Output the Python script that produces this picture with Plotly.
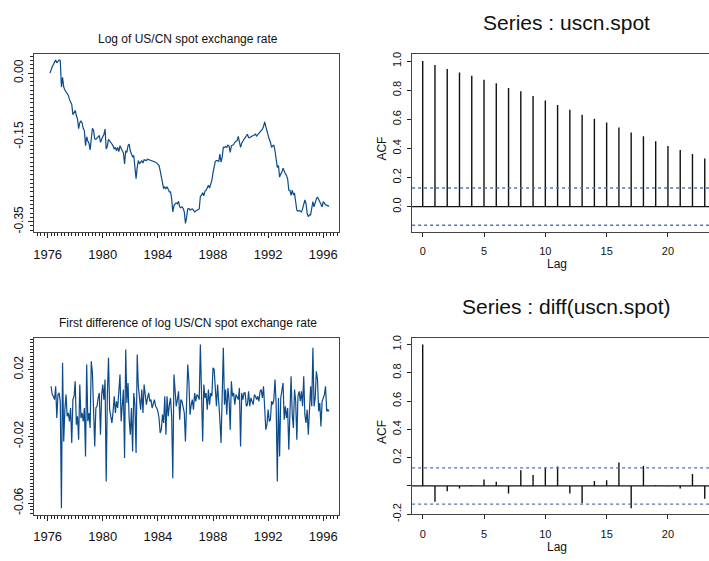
import numpy as np
import plotly.graph_objects as go

W, H = 709, 561

# ---------------- data ----------------
start_year, start_month = 1976, 3   # monthly, March 1976 onwards

uscn_spot = [
    0.000, 0.009, 0.015, 0.020, 0.027, 0.031, 0.024, 0.028, 0.031, 0.030,
    -0.033, -0.010, -0.033, -0.040, -0.045, -0.048, -0.052, -0.062, -0.070, -0.074,
    -0.098, -0.092, -0.088, -0.100, -0.108, -0.131, -0.117, -0.113, -0.117, -0.130,
    -0.136, -0.171, -0.150, -0.160, -0.165, -0.181, -0.160, -0.130, -0.135, -0.155,
    -0.156, -0.152, -0.150, -0.147, -0.163, -0.155, -0.150, -0.145, -0.132, -0.179,
    -0.172, -0.156, -0.159, -0.163, -0.167, -0.172, -0.179, -0.175, -0.183, -0.175,
    -0.185, -0.171, -0.180, -0.183, -0.188, -0.214, -0.183, -0.187, -0.171, -0.167,
    -0.183, -0.190, -0.198, -0.194, -0.218, -0.249, -0.222, -0.206, -0.214, -0.210,
    -0.206, -0.212, -0.204, -0.205, -0.206, -0.203, -0.204, -0.205, -0.206, -0.207,
    -0.207, -0.208, -0.210, -0.212, -0.214, -0.218, -0.230, -0.245, -0.257, -0.272,
    -0.268, -0.272, -0.268, -0.276, -0.280, -0.280, -0.296, -0.327, -0.312, -0.308,
    -0.306, -0.308, -0.302, -0.315, -0.317, -0.315, -0.319, -0.327, -0.354, -0.340,
    -0.320, -0.319, -0.323, -0.321, -0.320, -0.323, -0.327, -0.325, -0.323, -0.322,
    -0.320, -0.290, -0.288, -0.282, -0.289, -0.278, -0.276, -0.270, -0.264, -0.271,
    -0.263, -0.253, -0.235, -0.215, -0.208, -0.206, -0.206, -0.208, -0.191, -0.210,
    -0.198, -0.175, -0.175, -0.173, -0.175, -0.170, -0.172, -0.187, -0.171, -0.170,
    -0.168, -0.163, -0.161, -0.159, -0.149, -0.167, -0.175, -0.165, -0.159, -0.156,
    -0.152, -0.146, -0.144, -0.152, -0.152, -0.150, -0.149, -0.148, -0.146, -0.144,
    -0.148, -0.145, -0.142, -0.140, -0.136, -0.132, -0.126, -0.115, -0.126, -0.138,
    -0.144, -0.156, -0.163, -0.175, -0.171, -0.170, -0.183, -0.200, -0.222, -0.218,
    -0.245, -0.238, -0.233, -0.224, -0.233, -0.237, -0.241, -0.249, -0.276, -0.276,
    -0.288, -0.276, -0.286, -0.284, -0.303, -0.323, -0.325, -0.324, -0.325, -0.327,
    -0.320, -0.311, -0.299, -0.307, -0.331, -0.338, -0.334, -0.334, -0.311, -0.303,
    -0.315, -0.303, -0.296, -0.292, -0.298, -0.303, -0.311, -0.315, -0.303, -0.307,
    -0.310, -0.311, -0.313, -0.314,
]

uscn_diff = [
    0.010, 0.005, 0.004, 0.002, 0.010, -0.009, 0.005, 0.006, 0.001, -0.063,
    0.024, -0.023, -0.004, 0.005, -0.008, -0.006, -0.011, -0.003, -0.024, 0.002,
    0.004, 0.013, -0.013, -0.008, -0.022, 0.011, -0.009, -0.006, -0.011, -0.003,
    -0.032, 0.023, -0.011, -0.006, -0.015, 0.025, 0.018, -0.003, -0.026, -0.003,
    -0.002, 0.003, 0.006, -0.019, 0.004, 0.011, 0.002, 0.014, -0.047, 0.005,
    0.027, -0.004, -0.008, -0.012, -0.005, 0.004, -0.006, 0.001, -0.003, 0.005,
    0.017, -0.011, 0.002, 0.008, -0.033, 0.032, 0.000, 0.012, -0.010, -0.019,
    -0.003, -0.029, 0.006, -0.001, -0.030, 0.029, 0.010, 0.003, -0.004, 0.008,
    -0.006, 0.011, 0.004, -0.001, 0.003, 0.006, 0.001, 0.002, -0.003, -0.001,
    0.002, -0.002, -0.003, -0.005, -0.009, -0.018, -0.016, -0.007, -0.012, 0.004,
    -0.019, 0.004, -0.008, -0.001, 0.003, -0.008, -0.045, 0.017, 0.004, -0.002,
    0.002, 0.007, -0.010, 0.002, 0.001, -0.003, -0.006, -0.023, 0.010, 0.023,
    0.013, -0.007, -0.001, 0.002, -0.004, 0.006, 0.001, 0.005, 0.004, 0.002,
    0.035, -0.001, -0.023, 0.011, 0.003, 0.006, -0.004, 0.008, -0.001, 0.006,
    0.004, 0.021, 0.020, 0.009, -0.002, 0.011, -0.004, -0.010, -0.024, 0.005,
    0.033, -0.001, 0.008, -0.007, 0.009, 0.002, -0.016, 0.013, 0.004, 0.006,
    -0.001, 0.005, 0.003, 0.002, 0.009, -0.026, 0.006, 0.002, 0.006, 0.006,
    -0.002, -0.001, 0.007, -0.002, 0.003, 0.001, -0.001, 0.005, 0.004, 0.002,
    0.004, 0.001, 0.007, 0.008, 0.003, 0.010, -0.005, -0.016, -0.013, -0.004,
    -0.011, -0.010, 0.001, -0.001, 0.002, 0.014, -0.001, -0.047, 0.003, -0.032,
    0.003, 0.007, 0.012, -0.010, -0.002, -0.009, -0.003, -0.028, 0.004, 0.016,
    -0.007, -0.015, 0.008, 0.001, -0.022, 0.004, 0.007, 0.001, 0.007, -0.002,
    0.016, -0.007, -0.012, -0.004, -0.019, -0.003, 0.010, -0.002, 0.033, -0.002,
    0.003, 0.019, 0.014, -0.005, 0.000, -0.014, 0.001, 0.003, 0.005, 0.010,
    -0.005, -0.004, -0.005,
]

acf_lags = list(range(24))
acf_spot = [1.000, 0.973, 0.946, 0.921, 0.899, 0.872, 0.847, 0.816, 0.793, 0.760,
            0.730, 0.699, 0.665, 0.631, 0.604, 0.578, 0.544, 0.510, 0.483, 0.449,
            0.416, 0.389, 0.362, 0.330]
acf_diff = [1.000, -0.111, -0.037, -0.018, 0.005, 0.046, 0.030, -0.053, 0.111, 0.078,
            0.129, 0.138, -0.053, -0.122, 0.035, 0.041, 0.166, -0.157, 0.141, 0.005,
            -0.002, -0.018, 0.085, -0.090]

year_ticks = [1976, 1980, 1984, 1988, 1992, 1996]
spot_yticks = [0.00, -0.15, -0.35]
spot_ylabels = ["0.00", "-0.15", "-0.35"]
diff_yticks = [0.02, -0.02, -0.06]
diff_ylabels = ["0.02", "-0.02", "-0.06"]
acf1_yticks = [0.0, 0.2, 0.4, 0.6, 0.8, 1.0]
acf1_ylabels = ["0.0", "0.2", "0.4", "0.6", "0.8", "1.0"]
acf2_yticks = [-0.2, 0.0, 0.2, 0.4, 0.6, 0.8, 1.0]
acf2_ylabels = ["-0.2", "", "0.2", "0.4", "0.6", "0.8", "1.0"]
acf_xticks = [0, 5, 10, 15, 20]

# ---------------- helpers ----------------
FONT = "Liberation Sans, Arial, Helvetica, sans-serif"
LINE_BLUE = "#0b4a8b"
BOX = "#444444"


def px_x(p):
    return p / W


def px_y(p):
    return 1 - p / H


def time_index(n, offset):
    return start_year + (start_month - 1 + offset + np.arange(n)) / 12.0


def spikes(lags, vals):
    xs, ys = [], []
    for l, v in zip(lags, vals):
        xs += [l, l, None]
        ys += [0, v, None]
    return xs, ys


t_spot = time_index(len(uscn_spot), 0)
t_diff = time_index(len(uscn_diff), 1)

fig = go.Figure()

fig.add_trace(go.Scatter(x=t_spot, y=uscn_spot, mode="lines",
                         line=dict(color=LINE_BLUE, width=1.2),
                         xaxis="x", yaxis="y", showlegend=False))
fig.add_trace(go.Scatter(x=t_diff, y=uscn_diff, mode="lines",
                         line=dict(color=LINE_BLUE, width=1.2),
                         xaxis="x3", yaxis="y3", showlegend=False))

sx, sy = spikes(acf_lags, acf_spot)
fig.add_trace(go.Scatter(x=sx, y=sy, mode="lines", line=dict(color="#111111", width=1.4),
                         xaxis="x2", yaxis="y2", showlegend=False))
dx, dy = spikes(acf_lags, acf_diff)
fig.add_trace(go.Scatter(x=dx, y=dy, mode="lines", line=dict(color="#111111", width=1.4),
                         xaxis="x4", yaxis="y4", showlegend=False))

band1 = 2 / np.sqrt(len(uscn_spot))
band2 = 2 / np.sqrt(len(uscn_diff))
shapes = []
for xr, yr, b in (("x2 domain", "y2", band1), ("x4 domain", "y4", band2)):
    for s in (b, -b):
        shapes.append(dict(type="line", xref=xr, yref=yr, x0=0, x1=1, y0=s, y1=s,
                           line=dict(color="#4f74b0", width=1.3, dash="dot")))
    shapes.append(dict(type="line", xref=xr, yref=yr, x0=0, x1=1, y0=0, y1=0,
                       line=dict(color="#111111", width=1.3)))

tick_font = dict(family=FONT, size=13, color="#111111")
ylab_font = dict(family=FONT, size=12, color="#111111")
small_tick_font = dict(family=FONT, size=11, color="#111111")

time_x = dict(range=[1975.007, 1997.109], tickmode="array", tickvals=year_ticks,
              ticktext=[str(y) for y in year_ticks], ticks="outside", ticklen=5,
              tickcolor="#222222", showline=True, linecolor=BOX, mirror=True,
              showgrid=False, zeroline=False, tickfont=tick_font, ticklabelstandoff=5,
              minor=dict(tickmode="linear", tick0=1976, dtick=0.25, ticks="outside",
                         ticklen=3, tickcolor="#222222", showgrid=False))

acf_x = dict(range=[-0.863, 23.347], tickmode="array", tickvals=acf_xticks,
             ticktext=[str(v) for v in acf_xticks], ticks="outside", ticklen=4,
             tickcolor="#222222", showline=True, linecolor=BOX, mirror=True,
             showgrid=False, zeroline=False, tickfont=small_tick_font,
             ticklabelstandoff=5)

layout = dict(
    width=W, height=H, autosize=False,
    margin=dict(l=0, r=0, t=0, b=0),
    paper_bgcolor="white", plot_bgcolor="white",
    font=dict(family=FONT, color="#111111"),
    shapes=shapes,
    xaxis=dict(domain=[px_x(33), px_x(338)], anchor="y", **time_x),
    yaxis=dict(domain=[px_y(234), px_y(52)], anchor="x", range=[-0.3753, 0.045],
               tickmode="array", tickvals=spot_yticks, ticktext=spot_ylabels,
               tickangle=-90, ticks="outside", ticklen=5, tickcolor="#222222",
               showline=True, linecolor=BOX, mirror=True, showgrid=False, zeroline=False,
               tickfont=ylab_font,
               minor=dict(tickmode="linear", tick0=0, dtick=0.01, ticks="outside",
                          ticklen=3, tickcolor="#222222", showgrid=False)),
    xaxis3=dict(domain=[px_x(33), px_x(338)], anchor="y3", **time_x),
    yaxis3=dict(domain=[px_y(522), px_y(342)], anchor="x3", range=[-0.0669, 0.0387],
                tickmode="array", tickvals=diff_yticks, ticktext=diff_ylabels,
                tickangle=-90, ticks="outside", ticklen=5, tickcolor="#222222",
                showline=True, linecolor=BOX, mirror=True, showgrid=False, zeroline=False,
                tickfont=ylab_font,
                minor=dict(tickmode="linear", tick0=0, dtick=0.002, ticks="outside",
                           ticklen=3, tickcolor="#222222", showgrid=False)),
    xaxis2=dict(domain=[px_x(411.7), 1.0], anchor="y2", **acf_x),
    yaxis2=dict(domain=[px_y(233.3), px_y(52.3)], anchor="x2", range=[-0.1725, 1.047],
                tickmode="array", tickvals=acf1_yticks, ticktext=acf1_ylabels,
                tickangle=-90, ticks="outside", ticklen=4, tickcolor="#222222",
                showline=True, linecolor=BOX, mirror=False, showgrid=False, zeroline=False,
                tickfont=small_tick_font, ticklabelstandoff=2),
    xaxis4=dict(domain=[px_x(411.7), 1.0], anchor="y4", **acf_x),
    yaxis4=dict(domain=[px_y(521.7), px_y(341.7)], anchor="x4", range=[-0.2015, 1.0456],
                tickmode="array", tickvals=acf2_yticks, ticktext=acf2_ylabels,
                tickangle=-90, ticks="outside", ticklen=4, tickcolor="#222222",
                showline=True, linecolor=BOX, mirror=False, showgrid=False, zeroline=False,
                tickfont=small_tick_font, ticklabelstandoff=2),
)

annotations = [
    dict(text="Log of US/CN spot exchange rate", x=px_x(187), y=px_y(37),
         font=dict(family=FONT, size=12, color="#111111")),
    dict(text="First difference of log US/CN spot exchange rate", x=px_x(187), y=px_y(326),
         font=dict(family=FONT, size=12, color="#111111")),
    dict(text="Series : uscn.spot", x=px_x(566), y=px_y(20),
         font=dict(family=FONT, size=21, color="#111111")),
    dict(text="Series : diff(uscn.spot)", x=px_x(566), y=px_y(310),
         font=dict(family=FONT, size=21, color="#111111")),
    dict(text="ACF", x=px_x(382), y=px_y(148), textangle=-90,
         font=dict(family=FONT, size=12, color="#111111")),
    dict(text="ACF", x=px_x(382), y=px_y(437), textangle=-90,
         font=dict(family=FONT, size=12, color="#111111")),
    dict(text="Lag", x=px_x(557), y=px_y(266),
         font=dict(family=FONT, size=12, color="#111111")),
    dict(text="Lag", x=px_x(557), y=px_y(555),
         font=dict(family=FONT, size=12, color="#111111")),
]
for a in annotations:
    a.update(xref="paper", yref="paper", showarrow=False, xanchor="center", yanchor="middle")
layout["annotations"] = annotations

fig.update_layout(**layout)
fig.write_html("out.html",
               config={"displayModeBar": False},
               post_script="document.body.style.margin='0';"
                           "document.body.style.overflow='hidden';")
